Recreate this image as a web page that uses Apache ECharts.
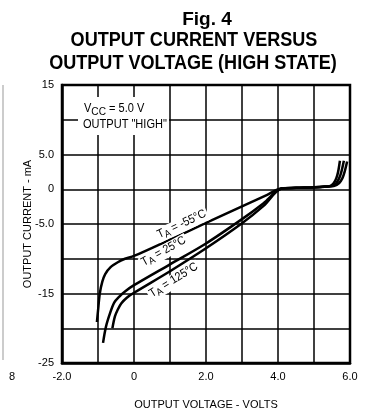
<!DOCTYPE html>
<html>
<head>
<meta charset="utf-8">
<script src="https://cdn.jsdelivr.net/npm/echarts@6/dist/echarts.min.js"></script>
<style>
  html, body { margin: 0; padding: 0; background: #fff; }
  #chart { width: 376px; height: 411px; }
</style>
</head>
<body>
<div id="chart"></div>
<script>
// curve readings, volts / mA
var v55  = [-1.03, -1.0, -0.95, -0.88, -0.8, -0.65, -0.45, -0.25, 0, 1, 2, 3, 3.7, 4.1, 4.5, 5.0, 5.3, 5.44, 5.55, 5.62, 5.67, 5.72];
var i55  = [-19.1, -17.5, -15.0, -13.3, -12.2, -11.2, -10.5, -10.0, -9.6, -7.25, -4.85, -2.45, -0.8, 0.15, 0.2, 0.25, 0.35, 0.45, 0.9, 1.6, 2.5, 4.1];
var v25  = [-0.86, -0.78, -0.67, -0.55, -0.4, -0.25, 0, 1, 2, 3, 3.6, 4.1, 4.5, 5.0, 5.3, 5.5, 5.62, 5.7, 5.76, 5.83];
var i25  = [-22.1, -19.8, -17.9, -16.3, -15.4, -14.7, -13.8, -10.8, -7.8, -4.3, -2.0, 0.1, 0.2, 0.28, 0.38, 0.45, 0.9, 1.6, 2.5, 4.1];
var v125 = [-0.6, -0.53, -0.45, -0.35, -0.2, 0, 1, 2, 3, 3.6, 4.1, 4.5, 5.0, 5.3, 5.55, 5.7, 5.79, 5.85, 5.92];
var i125 = [-20.0, -18.3, -17.3, -16.4, -15.6, -14.9, -11.8, -8.5, -4.9, -2.4, 0.1, 0.2, 0.28, 0.38, 0.45, 0.9, 1.6, 2.5, 4.0];

var yLabels = {'15': '15', '5': '5.0', '0': '0', '-5': '-5.0', '-15': '-15', '-25': '-25'};
var xLabels = {'-2': '-2.0', '0': '0', '2': '2.0', '4': '4.0', '6': '6.0'};

var sans = "'Liberation Sans', Arial, sans-serif";

function pairs(xs, ys) {
  var out = [];
  for (var i = 0; i < xs.length; i++) out.push([xs[i], ys[i]]);
  return out;
}

function curve(name, xs, ys) {
  return {
    name: name,
    type: 'line',
    data: pairs(xs, ys),
    smooth: 0.3,
    symbol: 'none',
    lineStyle: { color: '#000', width: 2.5 },
    z: 3
  };
}

function tempLabel(text, x, y, deg) {
  return {
    type: 'text',
    x: x, y: y,
    rotation: deg * Math.PI / 180,
    scaleX: 0.9,
    z: 20,
    style: {
      text: '{t|T}{s|A}{t| = ' + text + '}',
      align: 'center',
      verticalAlign: 'middle',
      backgroundColor: '#fff',
      padding: [0, 2],
      rich: {
        t: { fontFamily: sans, fontSize: 12, fill: '#000', lineHeight: 14, verticalAlign: 'top' },
        s: { fontFamily: sans, fontSize: 10, fill: '#000', lineHeight: 14, verticalAlign: 'bottom', padding: [5, 0, 0, 0] }
      }
    }
  };
}

function heading(text, x, y, size, sx) {
  return {
    type: 'text', x: x, y: y, scaleX: sx,
    style: { text: text, fontFamily: sans, fontWeight: 'bold', fontSize: size, fill: '#000', align: 'center', verticalAlign: 'middle' }
  };
}

var chart = echarts.init(document.getElementById('chart'));
var option = {
  backgroundColor: '#fff',
  animation: false,
  grid: { left: 62, right: 26, top: 85, bottom: 48, outerBoundsMode: 'none', show: true, borderColor: '#000', borderWidth: 2.5 },
  xAxis: {
    type: 'value', min: -2, max: 6, interval: 1,
    name: 'OUTPUT VOLTAGE - VOLTS', nameLocation: 'middle', nameGap: 36,
    nameTextStyle: { fontFamily: sans, fontSize: 11, color: '#000' },
    axisLine: { onZero: false, lineStyle: { color: '#000', width: 2.5 } },
    axisTick: { show: false },
    axisLabel: {
      margin: 8, fontFamily: sans, fontSize: 11, color: '#000',
      formatter: function (v) { return xLabels[String(v)] || ''; }
    },
    splitLine: { lineStyle: { color: '#000', width: 1.5 } }
  },
  yAxis: {
    type: 'value', min: -25, max: 15, interval: 5,
    name: 'OUTPUT CURRENT - mA', nameLocation: 'middle', nameRotate: 90, nameGap: 29,
    nameMoveOverlap: false,
    nameTextStyle: { fontFamily: sans, fontSize: 11, color: '#000' },
    axisLine: { onZero: false, lineStyle: { color: '#000', width: 2.5 } },
    axisTick: { show: false },
    axisLabel: {
      margin: 8, fontFamily: sans, fontSize: 11, color: '#000',
      formatter: function (v) { return yLabels[String(v)] || ''; }
    },
    splitLine: { lineStyle: { color: '#000', width: 1.5 } }
  },
  series: [
    curve('-55', v55, i55),
    curve('25', v25, i25),
    curve('125', v125, i125)
  ],
  graphic: [
    heading('Fig. 4', 207, 20, 19, 1),
    heading('OUTPUT CURRENT VERSUS', 194, 40, 21, 0.86),
    heading('OUTPUT VOLTAGE (HIGH STATE)', 193, 63, 21, 0.86),
    // white patch under the conditions note
    { type: 'rect', shape: { x: 78, y: 97, width: 91, height: 38 }, style: { fill: '#fff' }, z: 10 },
    { type: 'text', x: 84, y: 110, z: 11, scaleX: 0.92,
      style: {
        text: '{v|V}{s|CC}{v| = 5.0 V}',
        verticalAlign: 'middle',
        rich: {
          v: { fontFamily: sans, fontSize: 12, fill: '#000', lineHeight: 14, verticalAlign: 'top' },
          s: { fontFamily: sans, fontSize: 11, fill: '#000', lineHeight: 14, verticalAlign: 'bottom', padding: [5, 0, 0, 0] }
        }
      } },
    { type: 'text', x: 83, y: 125, z: 11, scaleX: 0.92,
      style: { text: 'OUTPUT "HIGH"', fontFamily: sans, fontSize: 12, fill: '#000', verticalAlign: 'middle' } },
    tempLabel('-55°C', 182, 225, 25),
    tempLabel('25°C', 164, 252, 29),
    tempLabel('125°C', 174, 281, 32),
    // scan edge artefacts
    { type: 'line', shape: { x1: 3, y1: 85, x2: 3, y2: 360 }, style: { stroke: '#bbb', lineWidth: 1.5 } },
    { type: 'text', x: 12, y: 377, style: { text: '8', fontFamily: sans, fontSize: 11, fill: '#000', align: 'center', verticalAlign: 'middle' } }
  ]
};
chart.setOption(option);
</script>
</body>
</html>
